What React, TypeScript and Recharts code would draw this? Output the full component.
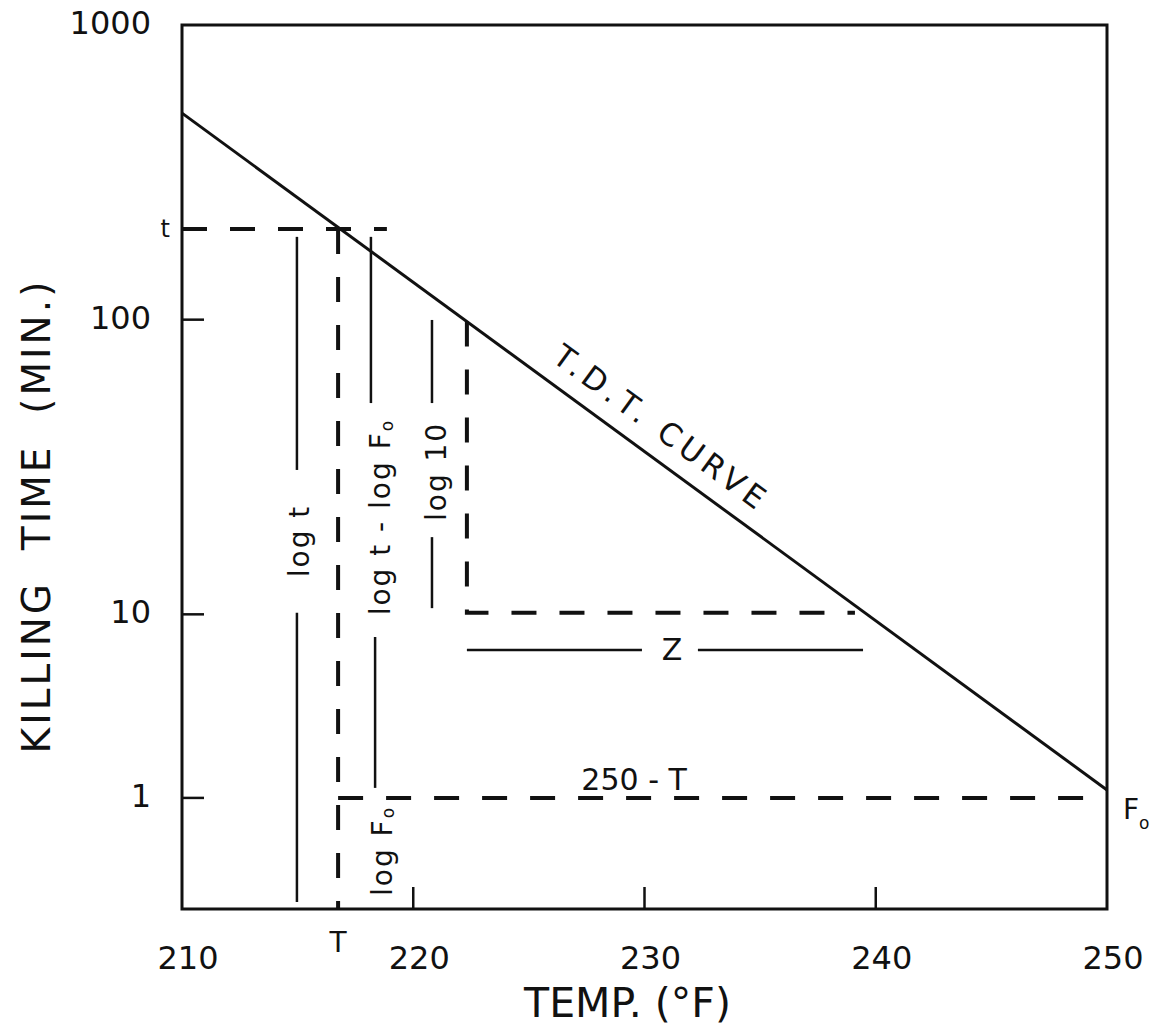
import { LineChart, Line, XAxis, YAxis, ReferenceArea, ReferenceDot } from "recharts";

const FONT = '"DejaVu Sans", sans-serif';
const INK = "#111";

// temperature axis (°F); T is the marked process temperature
const tempTicks = [210, 216.75, 220, 230, 240, 250];
const tempTickLabels = ["210", "T", "220", "230", "240", "250"];
const tempInnerTicks = [220, 230, 240];

// killing time axis, in decades as drawn (the drawing squeezes the lowest decade)
const timeTicks = [0.377, 1, 2, 2.308, 3];
const timeTickLabels = ["1", "10", "100", "t", "1000"];
const timeInnerTicks = [0.377, 1, 2];

// thermal death time curve
const tdtCurve = [
  { temp: 210, y: 2.701 },
  { temp: 250, y: 0.404 },
];

// dashed construction lines
const tLevel = [
  { temp: 210, y: 2.308 },
  { temp: 218.86, y: 2.308 },
];
const tDrop = [
  { temp: 216.75, y: 2.308 },
  { temp: 216.75, y: 0 },
];
const foLevel = [
  { temp: 216.75, y: 0.377 },
  { temp: 250, y: 0.377 },
];
const zCorner = [
  { temp: 222.32, y: 1.994 },
  { temp: 222.32, y: 1.005 },
  { temp: 239.1, y: 1.005 },
];

// solid dimension lines (broken where their labels sit)
const dimSegments = [
  [{ temp: 214.97, y: 2.281 }, { temp: 214.97, y: 1.49 }],
  [{ temp: 214.97, y: 1.005 }, { temp: 214.97, y: 0.024 }],
  [{ temp: 218.17, y: 2.281 }, { temp: 218.17, y: 1.717 }],
  [{ temp: 218.35, y: 0.923 }, { temp: 218.35, y: 0.411 }],
  [{ temp: 220.81, y: 1.999 }, { temp: 220.81, y: 1.717 }],
  [{ temp: 220.81, y: 1.262 }, { temp: 220.81, y: 1.021 }],
  [{ temp: 222.32, y: 0.879 }, { temp: 229.89, y: 0.879 }],
  [{ temp: 232.31, y: 0.879 }, { temp: 239.45, y: 0.879 }],
];

const verticalNotes = [
  { temp: 215.1, y: 1.249, text: "log t", sub: "" },
  { temp: 218.6, y: 1.33, text: "log t - log F", sub: "o" },
  { temp: 221.0, y: 1.485, text: "log 10", sub: "" },
  { temp: 218.65, y: 0.197, text: "log F", sub: "o" },
];

const flatNotes = [
  { temp: 231.19, y: 0.879, text: "Z" },
  { temp: 229.55, y: 0.438, text: "250 - T" },
];

function TempTick(props: any) {
  const { x, y, payload } = props;
  const i = tempTicks.indexOf(payload.value);
  const label = tempTickLabels[i];
  if (label === "T") {
    return (
      <text x={x} y={y + 43} textAnchor="middle" fontSize={28} fontFamily={FONT} fill={INK}>
        T
      </text>
    );
  }
  return (
    <g>
      {tempInnerTicks.includes(payload.value) && (
        <line x1={x} y1={y} x2={x} y2={y - 22} stroke={INK} strokeWidth={2.5} />
      )}
      <text x={x + 6} y={y + 60} textAnchor="middle" fontSize={32} fontFamily={FONT} fill={INK}>
        {label}
      </text>
    </g>
  );
}

function TimeTick(props: any) {
  const { x, y, payload } = props;
  const i = timeTicks.indexOf(payload.value);
  const label = timeTickLabels[i];
  if (label === "t") {
    return (
      <text x={x - 12} y={y} textAnchor="end" dominantBaseline="central" fontSize={24} fontFamily={FONT} fill={INK}>
        t
      </text>
    );
  }
  return (
    <g>
      {timeInnerTicks.includes(payload.value) && (
        <line x1={x} y1={y} x2={x + 22} y2={y} stroke={INK} strokeWidth={2.5} />
      )}
      <text x={x - 31} y={y - 2} textAnchor="end" dominantBaseline="central" fontSize={32} fontFamily={FONT} fill={INK}>
        {label}
      </text>
    </g>
  );
}

export default function App() {
  return (
    <div style={{ position: "absolute", left: 0, top: 0, background: "#fff" }}>
      <LineChart width={1158} height={1032} margin={{ top: 25, right: 51, bottom: 0, left: 0 }}>
        <XAxis
          dataKey="temp"
          type="number"
          domain={[210, 250]}
          ticks={tempTicks}
          interval={0}
          tick={<TempTick />}
          tickLine={false}
          tickSize={0}
          tickMargin={0}
          axisLine={false}
          height={123}
          label={{
            content: (p: any) => (
              <text
                x={p.viewBox.x + p.viewBox.width / 2 - 17}
                y={p.viewBox.y + 108}
                textAnchor="middle"
                fontSize={41}
                fontFamily={FONT}
                fill={INK}
              >
                TEMP. (°F)
              </text>
            ),
          }}
        />
        <YAxis
          type="number"
          domain={[0, 3]}
          ticks={timeTicks}
          interval={0}
          tick={<TimeTick />}
          tickLine={false}
          tickSize={0}
          tickMargin={0}
          axisLine={false}
          width={182}
          label={{
            content: (p: any) => {
              const cx = p.viewBox.x + 36;
              const cy = p.viewBox.y + p.viewBox.height / 2 + 49;
              return (
                <text
                  x={cx}
                  y={cy}
                  transform={`rotate(-90, ${cx}, ${cy})`}
                  textAnchor="middle"
                  dominantBaseline="central"
                  fontSize={39}
                  letterSpacing={3}
                  fontFamily={FONT}
                  fill={INK}
                  style={{ whiteSpace: "pre" }}
                >
                  {"KILLING  TIME  (MIN.)"}
                </text>
              );
            },
          }}
        />
        <ReferenceArea x1={210} x2={250} y1={0} y2={3} fill="none" stroke={INK} strokeWidth={3} />

        <Line data={tdtCurve} dataKey="y" stroke={INK} strokeWidth={3} dot={false} activeDot={false} isAnimationActive={false} />

        {[tLevel, tDrop, foLevel, zCorner].map((d, i) => (
          <Line
            key={"dash" + i}
            data={d}
            dataKey="y"
            stroke={INK}
            strokeWidth={4}
            strokeDasharray="25 23"
            dot={false}
            activeDot={false}
            isAnimationActive={false}
          />
        ))}
        {dimSegments.map((d, i) => (
          <Line
            key={"dim" + i}
            data={d}
            dataKey="y"
            stroke={INK}
            strokeWidth={2.5}
            dot={false}
            activeDot={false}
            isAnimationActive={false}
          />
        ))}

        {verticalNotes.map((n, i) => (
          <ReferenceDot
            key={"vn" + i}
            x={n.temp}
            y={n.y}
            ifOverflow="visible"
            shape={(p: any) => (
              <text
                x={p.cx}
                y={p.cy}
                transform={`rotate(-90, ${p.cx}, ${p.cy})`}
                textAnchor="middle"
                dominantBaseline="central"
                fontSize={28}
                letterSpacing={2}
                fontFamily={FONT}
                fill={INK}
                style={{ whiteSpace: "pre" }}
              >
                {n.text}
                {n.sub && (
                  <tspan fontSize={17} dy={6}>
                    {n.sub}
                  </tspan>
                )}
              </text>
            )}
          />
        ))}
        {flatNotes.map((n, i) => (
          <ReferenceDot
            key={"fn" + i}
            x={n.temp}
            y={n.y}
            ifOverflow="visible"
            shape={(p: any) => (
              <text
                x={p.cx}
                y={p.cy}
                textAnchor="middle"
                dominantBaseline="central"
                fontSize={30}
                fontFamily={FONT}
                fill={INK}
                style={{ whiteSpace: "pre" }}
              >
                {n.text}
              </text>
            )}
          />
        ))}
        <ReferenceDot
          x={250}
          y={0.377}
          ifOverflow="visible"
          shape={(p: any) => (
            <text x={p.cx + 16} y={p.cy + 21} fontSize={28} fontFamily={FONT} fill={INK}>
              F
              <tspan fontSize={17} dy={10}>
                o
              </tspan>
            </text>
          )}
        />
        <ReferenceDot
          x={230.0}
          y={1.553}
          ifOverflow="visible"
          shape={(p: any) => (
            <text
              x={p.cx}
              y={p.cy - 29}
              transform={`rotate(36.2, ${p.cx}, ${p.cy})`}
              textAnchor="middle"
              dominantBaseline="central"
              fontSize={31}
              letterSpacing={5}
              fontFamily={FONT}
              fill={INK}
            >
              T.D.T. CURVE
            </text>
          )}
        />
      </LineChart>
    </div>
  );
}
